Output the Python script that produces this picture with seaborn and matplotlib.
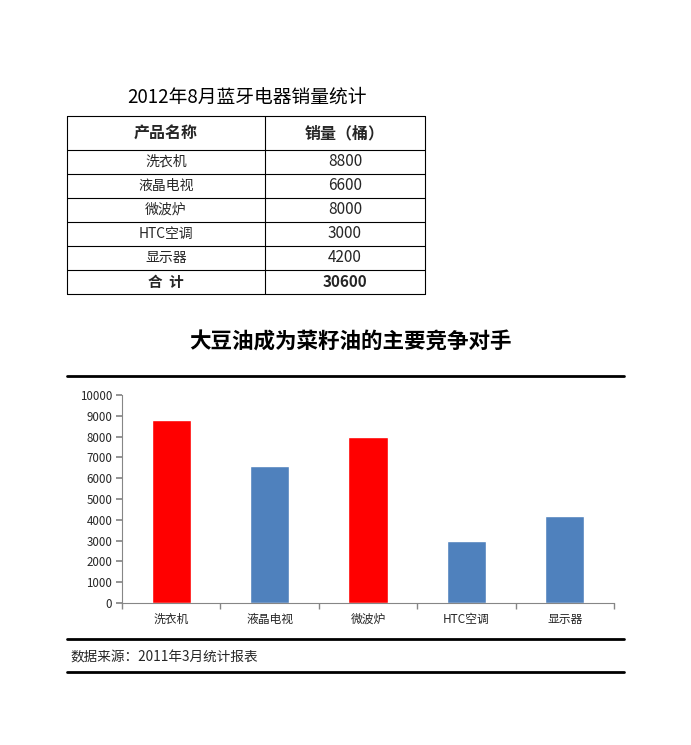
import matplotlib
matplotlib.use("Agg")
import matplotlib.pyplot as plt
import seaborn as sns
import pandas as pd
import numpy as np

sns.set_theme(style="white")
plt.rcParams['font.family'] = ['Noto Sans CJK SC', 'DejaVu Sans']

table_title = "2012年8月蓝牙电器销量统计"
col_headers = ["产品名称", "销量（桶）"]
categories = ["洗衣机", "液晶电视", "微波炉", "HTC空调", "显示器"]
values = [8800, 6600, 8000, 3000, 4200]
total_label = "合  计"
total_value = 30600
chart_title = "大豆油成为菜籽油的主要竞争对手"
source_text = "数据来源：2011年3月统计报表"
bar_colors = ["#FF0000", "#4F81BD", "#FF0000", "#4F81BD", "#4F81BD"]
y_ticks = [0, 1000, 2000, 3000, 4000, 5000, 6000, 7000, 8000, 9000, 10000]

W, H = 691, 745
fig = plt.figure(figsize=(W / 100, H / 100), dpi=100)
fig.patch.set_facecolor("white")

# background axes in pixel coordinates
bg = fig.add_axes([0, 0, 1, 1])
bg.set_xlim(0, W)
bg.set_ylim(H, 0)
bg.axis("off")

# table title
bg.text(247, 97, table_title, ha="center", va="center", fontsize=13.5, color="black")

# table grid
x0, xm, x1 = 67, 265, 425
row_edges = [116, 150, 174, 198, 222, 246, 270, 294]
for y in row_edges:
    bg.plot([x0, x1], [y, y], color="black", lw=0.8)
for x in [x0, xm, x1]:
    bg.plot([x, x], [row_edges[0], row_edges[-1]], color="black", lw=0.8)

cx1, cx2 = (x0 + xm) / 2, (xm + x1) / 2
hy = (row_edges[0] + row_edges[1]) / 2
bg.text(cx1, hy, col_headers[0], ha="center", va="center", fontsize=11.5, fontweight="bold")
bg.text(cx2, hy, col_headers[1], ha="center", va="center", fontsize=11.5, fontweight="bold")
for i, (c, v) in enumerate(zip(categories, values)):
    yy = (row_edges[i + 1] + row_edges[i + 2]) / 2
    bg.text(cx1, yy, c, ha="center", va="center", fontsize=10)
    bg.text(cx2, yy, f"{v}", ha="center", va="center", fontsize=11)
ty = (row_edges[-2] + row_edges[-1]) / 2
bg.text(cx1, ty, total_label, ha="center", va="center", fontsize=10.5, fontweight="bold")
bg.text(cx2, ty, f"{total_value}", ha="center", va="center", fontsize=11, fontweight="bold")

# chart title
bg.text(350, 342, chart_title, ha="center", va="center", fontsize=15.5, fontweight="black",
        color="black")

# horizontal rules
for y in [376, 639, 672]:
    bg.plot([67, 624], [y, y], color="black", lw=2)

# source
bg.text(70, 657, source_text, ha="left", va="center", fontsize=9.8)

# bar chart axes
left, right, top, bottom = 122, 614, 395, 603
ax = fig.add_axes([left / W, (H - bottom) / H, (right - left) / W, (bottom - top) / H])
ax.set_facecolor("none")
df = pd.DataFrame({"cat": categories, "val": values})
sns.barplot(data=df, x="cat", y="val", hue="cat", palette=bar_colors, order=categories,
            hue_order=categories, width=0.4, legend=False, ax=ax, saturation=1)
ax.set_xlim(-0.5, len(categories) - 0.5)
ax.set_ylim(0, 10000)
ax.set_yticks(y_ticks)
ax.set_yticklabels([str(t) for t in y_ticks], fontsize=8.3)
ax.set_xticks(range(len(categories)))
ax.set_xticklabels(categories, fontsize=8.5)
ax.set_xticks(np.arange(-0.5, len(categories), 1.0), minor=True)
ax.tick_params(axis="x", which="major", length=0, pad=7)
ax.tick_params(axis="x", which="minor", length=4, color="#868686", direction="out", bottom=True)
ax.tick_params(axis="y", length=4, color="#868686", direction="out", left=True, pad=3)
ax.set_xlabel("")
ax.set_ylabel("")
for s in ["top", "right"]:
    ax.spines[s].set_visible(False)
for s in ["left", "bottom"]:
    ax.spines[s].set_color("#868686")
    ax.spines[s].set_linewidth(0.8)
ax.grid(False)

fig.savefig("out.png", dpi=100, facecolor="white")
